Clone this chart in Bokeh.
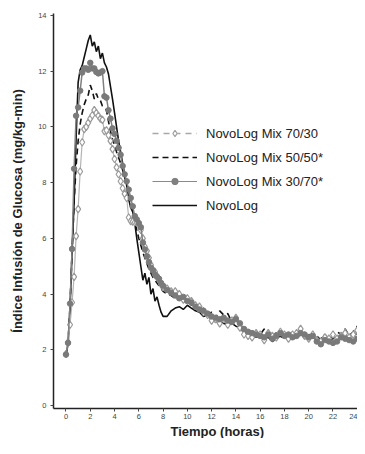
from bokeh.plotting import figure
from bokeh.models import Range1d, Legend, LegendItem, FixedTicker, Title
from bokeh.embed import file_html
from bokeh.resources import INLINE

# ---- data (hours; glucose infusion rate mg/kg-min) ----
hours = [0, 0.167, 0.333, 0.5, 0.667, 0.833, 1.0, 1.167, 1.333, 1.5, 1.667, 1.833,
         2.0, 2.167, 2.333, 2.5, 2.667, 2.833, 3.0, 3.167, 3.333, 3.5, 3.667, 3.833,
         4.0, 4.167, 4.333, 4.5, 4.667, 4.833, 5.0, 5.167, 5.333, 5.5, 5.667, 5.833,
         6.0, 6.167, 6.333, 6.5, 6.667, 6.833, 7.0, 7.167, 7.333, 7.5, 7.667, 7.833,
         8.0, 8.333, 8.667, 9.0, 9.333, 9.667, 10.0, 10.333, 10.667, 11.0, 11.333, 11.667,
         12.0, 12.333, 12.667, 13.0, 13.333, 13.667, 14.0, 14.333, 14.667, 15.0, 15.333, 15.667,
         16.0, 16.333, 16.667, 17.0, 17.333, 17.667, 18.0, 18.333, 18.667, 19.0, 19.333, 19.667,
         20.0, 20.333, 20.667, 21.0, 21.333, 21.667, 22.0, 22.333, 22.667, 23.0, 23.333, 23.667,
         24.0, 24.333, 24.667]

mix_70_30 = [1.85, 2.27, 2.9, 3.7, 4.62, 6.08, 7.05, 8.4, 9.45, 9.92, 10.0, 10.15,
             10.3, 10.42, 10.6, 10.5, 10.4, 10.3, 10.25, 9.85, 9.88, 9.7, 9.5, 9.2,
             8.85, 8.55, 8.3, 8.05, 7.8, 7.6, 7.45, 6.75, 6.62, 6.6, 6.58, 6.56,
             6.5, 6.3, 6.0, 5.7, 5.55, 5.3, 5.05, 4.85, 4.8, 4.65, 4.5, 4.35,
             4.25, 4.2, 4.1, 4.1, 4.0, 3.8, 3.85, 3.75, 3.6, 3.55, 3.35, 3.25,
             3.05, 3.1, 2.95, 3.1, 2.9, 3.05, 3.15, 2.8, 2.55, 2.5, 2.45, 2.6,
             2.55, 2.35, 2.6, 2.5, 2.45, 2.65, 2.55, 2.4, 2.55, 2.6, 2.75, 2.5,
             2.4, 2.55, 2.35, 2.3, 2.45, 2.4, 2.55, 2.4, 2.5, 2.6, 2.45, 2.55,
             2.7, 2.45, 2.4]

mix_50_50 = [1.85, 2.2, 3.6, 5.5, 7.3, 8.6, 9.5, 10.1, 10.5, 10.8, 11.0, 11.15,
             11.5, 11.3, 11.0, 11.2, 11.0, 10.95, 10.75, 10.7, 10.6, 10.2, 9.85, 9.55,
             9.35, 9.1, 8.9, 8.7, 8.45, 8.2, 7.9, 7.6, 7.35, 7.0, 6.65, 6.3,
             6.0, 5.75, 5.5, 5.3, 5.1, 4.9, 4.75, 4.6, 4.5, 4.4, 4.3, 4.2,
             4.1, 4.0, 3.95, 3.85, 3.95, 3.7, 3.85, 3.6, 3.7, 3.4, 3.5, 3.25,
             3.35, 3.15, 3.4, 3.25, 3.3, 3.0, 3.05, 2.85, 2.6, 2.7, 2.6, 2.65,
             2.55, 2.75, 2.5, 2.55, 2.6, 2.4, 2.65, 2.5, 2.4, 2.45, 2.6, 2.4,
             2.55, 2.45, 2.5, 2.35, 2.55, 2.4, 2.5, 2.65, 2.55, 2.75, 2.5, 2.65,
             2.85, 2.9, 2.95]

mix_30_70 = [1.83, 2.25, 3.66, 5.62, 8.5, 10.4, 10.7, 11.3, 11.95, 12.1, 12.1, 12.05,
             12.3, 12.1, 12.1, 11.97, 11.92, 11.95, 12.0, 11.1, 11.05, 10.6, 10.3, 9.95,
             9.75, 9.5, 9.25, 9.0, 8.6, 8.3, 8.05, 7.75, 7.45, 7.15, 6.8, 6.68,
             6.55, 6.4, 5.85, 5.6, 5.35, 5.15, 4.95, 4.85, 4.7, 4.62, 4.55, 4.4,
             4.3, 4.15, 4.05, 3.95, 3.85, 3.9, 3.75, 3.7, 3.55, 3.45, 3.4, 3.3,
             3.2, 3.15, 3.1, 3.15, 3.05, 3.0, 3.1, 2.95, 2.75, 2.65, 2.6, 2.55,
             2.5, 2.45, 2.55, 2.4, 2.5, 2.6, 2.5, 2.55, 2.45, 2.5, 2.6, 2.55,
             2.45, 2.5, 2.3, 2.2, 2.35, 2.3, 2.25, 2.3, 2.45, 2.4, 2.35, 2.3,
             2.4, 2.35, 2.3]

novolog = [1.8, 2.2, 3.5, 5.5, 7.3, 9.6, 11.6, 12.05, 12.2, 12.5, 12.8, 13.1,
           13.3, 12.9, 13.05, 12.7, 12.9, 12.45, 12.65, 12.3, 12.15, 11.9, 11.45, 11.0,
           10.5, 10.0, 9.5, 9.1, 8.7, 8.3, 7.9, 7.4, 7.1, 6.95, 6.55, 6.0,
           5.5, 5.0, 4.5, 4.75, 4.35, 4.6, 4.0, 4.2, 3.75, 3.9, 3.6, 3.35,
           3.2, 3.2, 3.4, 3.5, 3.55, 3.45, 3.6, 3.5, 3.4, 3.35, 3.2, 3.25,
           3.1, 3.0, 3.05, 2.95, 2.9, 2.95, 2.85, 2.8, 2.6, 2.5, 2.55, 2.45,
           2.5, 2.4, 2.45, 2.3, 2.4, 2.5, 2.45, 2.5, 2.4, 2.45, 2.55, 2.5,
           2.4, 2.45, 2.35, 2.4, 2.5, 2.35, 2.4, 2.45, 2.5, 2.55, 2.45, 2.5,
           2.6, 2.55, 2.5]

x_ticks = [0, 2, 4, 6, 8, 10, 12, 14, 16, 18, 20, 22, 24]
y_ticks = [0, 2, 4, 6, 8, 10, 12, 14]

series_names = ["NovoLog Mix 70/30", "NovoLog Mix 50/50*", "NovoLog Mix 30/70*", "NovoLog"]

FONT = "Liberation Sans"

p = figure(width=357, height=438, output_backend="svg", toolbar_location=None,
           x_range=Range1d(-1.03, 24.02), y_range=Range1d(-0.105, 14.07),
           min_border_left=53, min_border_right=0, min_border_top=13, min_border_bottom=0)
p.outline_line_color = None
p.grid.visible = False
p.background_fill_color = "white"

# draw order: NovoLog, 50/50, 70/30, 30/70 on top
r_novo = p.line(hours, novolog, line_color="#111111", line_width=1.6)
r_5050 = p.line(hours, mix_50_50, line_color="#111111", line_width=1.6, line_dash="6 4")
r_7030_l = p.line(hours, mix_70_30, line_color="#b4b4b4", line_width=1.2)
r_7030_m = p.scatter(hours, mix_70_30, marker="diamond", size=7.5,
                     fill_color="white", line_color="#9a9a9a", line_width=1.2)
r_3070_l = p.line(hours, mix_30_70, line_color="#808080", line_width=1.5)
r_3070_m = p.scatter(hours, mix_30_70, marker="circle", size=5.5,
                     fill_color="#7a7a7a", line_color="#7a7a7a")

# legend-only (hidden) renderers that carry the legend styling
leg_7030_l = p.line(hours, mix_70_30, line_color="#a8a8a8", line_width=1.3,
                    line_dash="6 5", visible=False)
leg_7030_m = p.scatter(hours, mix_70_30, marker="diamond", size=7,
                       fill_color="white", line_color="#a0a0a0", line_width=1.2, visible=False)
leg_3070_l = p.line(hours, mix_30_70, line_color="#8a8a8a", line_width=1.2, visible=False)
leg_3070_m = p.scatter(hours, mix_30_70, marker="circle", size=4,
                       fill_color="#808080", line_color="#808080", visible=False)

legend = Legend(items=[
    LegendItem(label=series_names[0], renderers=[leg_7030_l, leg_7030_m]),
    LegendItem(label=series_names[1], renderers=[r_5050]),
    LegendItem(label=series_names[2], renderers=[leg_3070_l, leg_3070_m]),
    LegendItem(label=series_names[3], renderers=[r_novo]),
], location=(99, 195), glyph_width=45, glyph_height=16, label_height=16,
   spacing=8, padding=0, margin=0, label_standoff=9,
   border_line_color=None, background_fill_alpha=0,
   label_text_font=FONT, label_text_font_size="13px", label_text_color="#222222")
p.add_layout(legend)

for ax in (p.xaxis[0], p.yaxis[0]):
    ax.axis_line_color = "#222222"
    ax.axis_line_width = 1.5
    ax.major_tick_line_color = "#444444"
    ax.major_tick_out = 3
    ax.major_tick_in = 0
    ax.minor_tick_line_color = None
    ax.major_label_text_font = FONT
    ax.major_label_text_font_size = "7.5px"
    ax.major_label_text_color = "#444444"

p.xaxis.ticker = FixedTicker(ticks=x_ticks)
p.yaxis.ticker = FixedTicker(ticks=y_ticks)
p.xaxis.major_label_standoff = 2
p.yaxis.major_label_standoff = 4

p.yaxis.axis_label = "Índice Infusión de Glucosa (mg/kg-min)"
p.yaxis.axis_label_text_font = FONT
p.yaxis.axis_label_text_font_style = "bold"
p.yaxis.axis_label_text_font_size = "13px"
p.yaxis.axis_label_text_color = "#222222"
p.yaxis.axis_label_standoff = 10

xt = Title(text="Tiempo (horas)", align="left", offset=117, standoff=0,
           text_font=FONT, text_font_style="bold", text_font_size="13px",
           text_color="#222222")
p.add_layout(xt, "below")

open("out.html", "w").write(file_html(p, INLINE))
